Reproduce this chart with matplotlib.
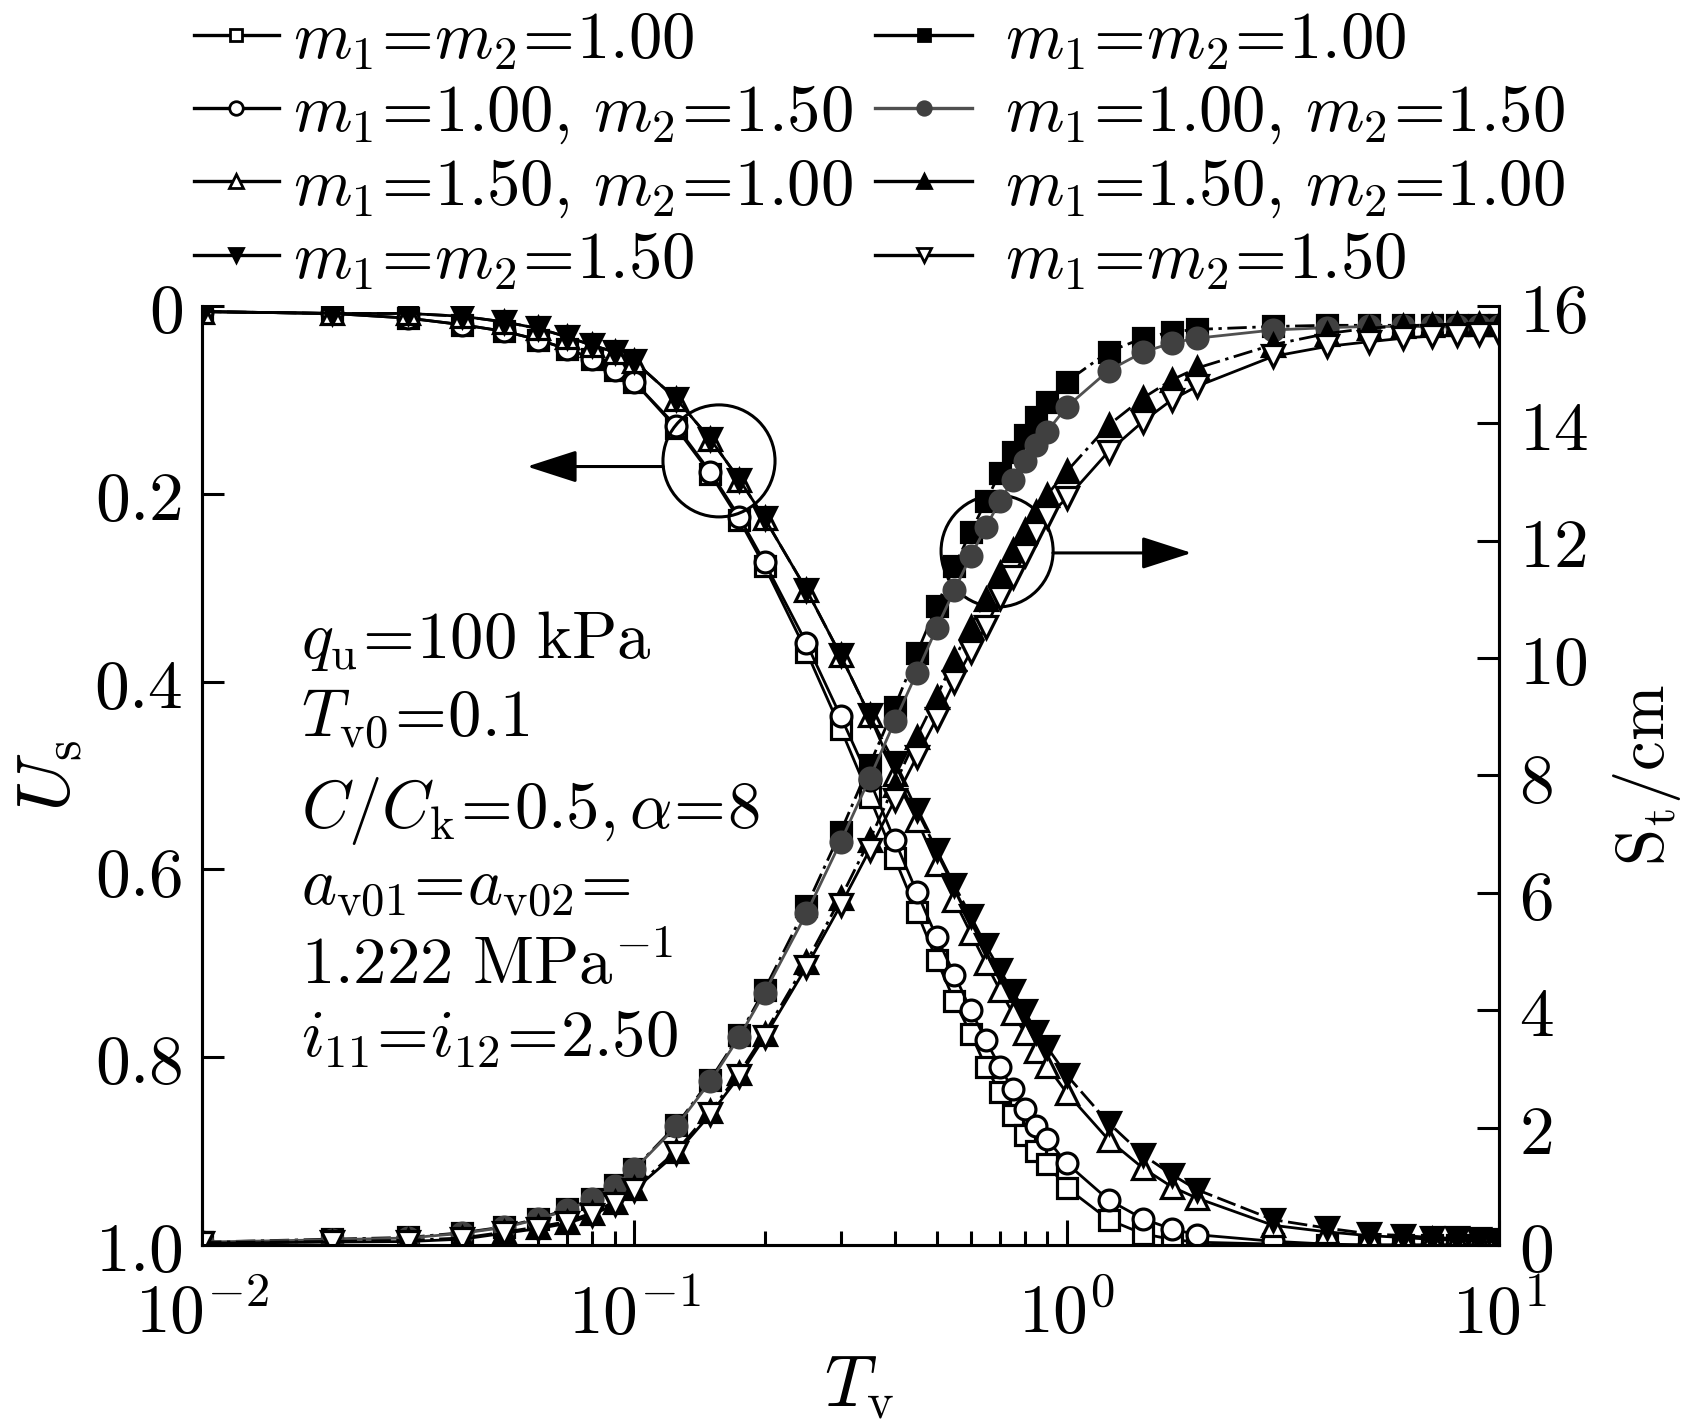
import numpy as np
import matplotlib
matplotlib.use("Agg")
import matplotlib.pyplot as plt
from matplotlib.lines import Line2D
from matplotlib.patches import Ellipse
from matplotlib.ticker import FixedLocator, FixedFormatter, FuncFormatter, NullFormatter, LogLocator

plt.rcParams['mathtext.fontset'] = 'cm'
plt.rcParams['font.family'] = ['DejaVu Serif']

# time factor (shared by all series)
tv = [0.01, 0.02, 0.03, 0.04, 0.05, 0.06, 0.07, 0.08, 0.09, 0.10,
      0.125, 0.15, 0.175, 0.20, 0.25, 0.30, 0.35, 0.40, 0.45, 0.50,
      0.55, 0.60, 0.65, 0.70, 0.75, 0.80, 0.85, 0.90, 1.00, 1.25,
      1.50, 1.75, 2.00, 3.0, 4.0, 5.0, 6.0, 7.0, 8.0, 9.0, 10.0]

# degree of consolidation U_s (left axis)
us_m100_100 = [0.006, 0.008, 0.013, 0.020, 0.027, 0.036, 0.046, 0.056, 0.068, 0.081,
               0.130, 0.179, 0.228, 0.277, 0.368, 0.450, 0.523, 0.588, 0.645, 0.696,
               0.740, 0.775, 0.810, 0.837, 0.862, 0.883, 0.900, 0.914, 0.939, 0.973,
               0.988, 0.994, 0.997, 0.999, 1.0, 1.0, 1.0, 1.0, 1.0, 1.0, 1.0]
us_m100_150 = [0.006, 0.008, 0.013, 0.020, 0.027, 0.036, 0.046, 0.056, 0.068, 0.081,
               0.128, 0.177, 0.225, 0.273, 0.359, 0.437, 0.505, 0.569, 0.624, 0.672,
               0.712, 0.750, 0.782, 0.810, 0.834, 0.855, 0.873, 0.887, 0.913, 0.952,
               0.972, 0.983, 0.989, 0.996, 0.999, 1.0, 1.0, 1.0, 1.0, 1.0, 1.0]
us_m150_100 = [0.006, 0.008, 0.008, 0.011, 0.017, 0.024, 0.033, 0.042, 0.049, 0.059,
               0.099, 0.142, 0.185, 0.226, 0.302, 0.372, 0.436, 0.498, 0.547, 0.594,
               0.633, 0.668, 0.700, 0.728, 0.753, 0.774, 0.793, 0.809, 0.838, 0.888,
               0.918, 0.938, 0.950, 0.979, 0.986, 0.990, 0.992, 0.994, 0.995, 0.996, 0.997]
us_m150_150 = [0.006, 0.008, 0.008, 0.011, 0.017, 0.024, 0.033, 0.042, 0.049, 0.059,
               0.099, 0.142, 0.185, 0.226, 0.302, 0.372, 0.436, 0.487, 0.537, 0.579,
               0.617, 0.650, 0.681, 0.707, 0.730, 0.751, 0.773, 0.789, 0.819, 0.870,
               0.904, 0.925, 0.941, 0.973, 0.982, 0.988, 0.990, 0.992, 0.993, 0.994, 0.995]

# settlement S_t in cm (right axis)
st_m100_100 = [0.05, 0.10, 0.13, 0.21, 0.31, 0.45, 0.61, 0.79, 1.02, 1.30,
               2.04, 2.82, 3.58, 4.35, 5.77, 7.04, 8.18, 9.17, 10.08, 10.88,
               11.57, 12.15, 12.67, 13.15, 13.52, 13.80, 14.11, 14.37, 14.71, 15.22,
               15.45, 15.56, 15.60, 15.65, 15.67, 15.67, 15.67, 15.67, 15.67, 15.67, 15.67]
st_m100_150 = [0.05, 0.09, 0.12, 0.20, 0.30, 0.44, 0.60, 0.78, 1.00, 1.29,
               2.02, 2.79, 3.55, 4.30, 5.65, 6.87, 7.95, 8.92, 9.75, 10.51,
               11.16, 11.74, 12.23, 12.67, 13.03, 13.35, 13.63, 13.86, 14.28, 14.90,
               15.21, 15.37, 15.45, 15.59, 15.63, 15.65, 15.65, 15.65, 15.65, 15.65, 15.65]
st_m150_100 = [0.04, 0.06, 0.08, 0.12, 0.22, 0.31, 0.40, 0.55, 0.74, 0.97,
               1.60, 2.28, 2.93, 3.60, 4.82, 5.91, 6.90, 7.84, 8.66, 9.34,
               9.99, 10.53, 11.00, 11.45, 11.85, 12.18, 12.49, 12.78, 13.18, 13.97,
               14.43, 14.74, 14.94, 15.34, 15.53, 15.62, 15.66, 15.68, 15.69, 15.70, 15.70]
st_m150_150 = [0.03, 0.05, 0.06, 0.10, 0.20, 0.28, 0.37, 0.51, 0.70, 0.94,
               1.56, 2.23, 2.88, 3.54, 4.74, 5.79, 6.73, 7.58, 8.32, 8.97,
               9.60, 10.11, 10.53, 11.02, 11.39, 11.76, 12.13, 12.41, 12.72, 13.52,
               14.03, 14.40, 14.63, 15.14, 15.31, 15.39, 15.45, 15.49, 15.50, 15.52, 15.53]

labels = [r'$m_1\!=\!m_2\!=\!1.00$',
          r'$m_1\!=\!1.00,\,m_2\!=\!1.50$',
          r'$m_1\!=\!1.50,\,m_2\!=\!1.00$',
          r'$m_1\!=\!m_2\!=\!1.50$']

u_ticks = [0, 0.2, 0.4, 0.6, 0.8, 1.0]
u_ticklabels = ['$0$', '$0.2$', '$0.4$', '$0.6$', '$0.8$', '$1.0$']
s_ticks = [0, 2, 4, 6, 8, 10, 12, 14, 16]
s_ticklabels = ['$%d$' % v for v in s_ticks]

notes = [r'$q_\mathrm{u}\!=\!100\ \mathrm{kPa}$',
         r'$T_\mathrm{v0}\!=\!0.1$',
         r'$C/C_\mathrm{k}\!=\!0.5,\alpha\!=\!8$',
         r'$a_\mathrm{v01}\!=\!a_\mathrm{v02}\!=$',
         r'$1.222\ \mathrm{MPa}^{-1}$',
         r'$i_{11}\!=\!i_{12}\!=\!2.50$']
note_y = [0.625, 0.541, 0.444, 0.362, 0.278, 0.2005]

FS = 48
TFS = 50
dashdot = (0, (7, 2, 1.2, 2))
dashed = (0, (7, 2))

u_styles = [dict(marker='s', ms=14, mfc='white', color='k', ls='-'),
            dict(marker='o', ms=15, mfc='white', color='k', ls='-'),
            dict(marker='^', ms=16.5, mfc='white', color='k', ls='-'),
            dict(marker='v', ms=16.5, mfc='k', color='k', ls=dashed)]
s_styles = [dict(marker='s', ms=14, mfc='k', color='k', ls=dashdot),
            dict(marker='o', ms=15, mfc='#404040', mec='#404040', color='#505050', ls='-'),
            dict(marker='^', ms=16.5, mfc='k', color='k', ls=dashdot),
            dict(marker='v', ms=16.5, mfc='white', color='k', ls='-')]

fig = plt.figure(figsize=(17.06, 14.25), dpi=100)
ax = fig.add_axes([0.1184, 0.1263, 0.7603, 0.659])
ax2 = ax.twinx()

for ys, st in zip([us_m100_100, us_m100_150, us_m150_100, us_m150_150], u_styles):
    ax.plot(tv, ys, lw=2.0, mew=2.3, **st)
for ys, st in zip([st_m100_100, st_m100_150, st_m150_100, st_m150_150], s_styles):
    ax2.plot(tv, ys, lw=2.0, mew=2.3, **st)

ax.set_xscale('log')
ax.set_xlim(1e-2, 1e1)
ax.set_ylim(1.0, 0.0)
ax2.set_ylim(0, 16)

ax.xaxis.set_major_locator(LogLocator(base=10, numticks=10))
ax.xaxis.set_minor_locator(LogLocator(base=10, subs=np.arange(2, 10), numticks=20))
ax.xaxis.set_major_formatter(FuncFormatter(lambda v, p: r'$10^{%d}$' % round(np.log10(v))))
ax.xaxis.set_minor_formatter(NullFormatter())
ax.yaxis.set_major_locator(FixedLocator(u_ticks))
ax.yaxis.set_major_formatter(FixedFormatter(u_ticklabels))
ax2.yaxis.set_major_locator(FixedLocator(s_ticks))
ax2.yaxis.set_major_formatter(FixedFormatter(s_ticklabels))

for a in (ax, ax2):
    a.spines['top'].set_visible(False)
    for sp in a.spines.values():
        sp.set_linewidth(2.2)
ax.tick_params(axis='x', which='major', direction='in', length=18, width=2.2, labelsize=TFS, pad=26, top=False)
ax.tick_params(axis='x', which='minor', direction='in', length=10, width=2.2, top=False)
ax.tick_params(axis='y', direction='in', length=16, width=2.2, labelsize=TFS, pad=14, right=False)
ax2.tick_params(axis='y', direction='in', length=16, width=2.2, labelsize=TFS, pad=14)

ax.set_xlabel(r'$T_\mathrm{v}$', fontsize=FS + 4)
ax.xaxis.set_label_coords(0.5066, -0.112)
ax.set_ylabel(r'$U_\mathrm{s}$', fontsize=FS + 6)
ax.yaxis.set_label_coords(-0.09, 0.5)
ax2.set_ylabel(r'$\mathrm{S_t/cm}$', fontsize=FS)
ax2.yaxis.set_label_coords(1.086, 0.5)

for s, y in zip(notes, note_y):
    ax.text(0.0763, y, s, transform=ax.transAxes, fontsize=FS, va='baseline', ha='left')

# circles with arrows pointing to the matching axis
ax2.add_patch(Ellipse((0.3986, 0.835), 0.0864, 0.1193, transform=ax2.transAxes,
                      fill=False, lw=2.2, color='k'))
ax2.add_patch(Ellipse((0.613, 0.739), 0.0864, 0.1193, transform=ax2.transAxes,
                      fill=False, lw=2.2, color='k'))
arrow = dict(arrowstyle='-|>,head_length=1.55,head_width=0.5', mutation_scale=20,
             lw=2.2, color='k', shrinkA=0, shrinkB=0)
ax2.annotate('', xy=(0.2506, 0.829), xytext=(0.3555, 0.829),
             xycoords='axes fraction', textcoords='axes fraction', arrowprops=arrow)
ax2.annotate('', xy=(0.763, 0.737), xytext=(0.656, 0.737),
             xycoords='axes fraction', textcoords='axes fraction', arrowprops=arrow)

# legends with solid-line handles
def handles(styles):
    out = []
    for st in styles:
        st = dict(st)
        st['ls'] = '-'
        out.append(Line2D([], [], lw=2.4, mew=2.0, **st))
    return out

leg_kw = dict(frameon=False, fontsize=FS, borderpad=0, borderaxespad=0,
              labelspacing=0.11, markerscale=0.65, loc='upper left')
leg1 = fig.legend(handles(u_styles), labels, bbox_to_anchor=(0.1137, 0.995),
                  handlelength=1.27, handletextpad=0.22, **leg_kw)
leg2 = fig.legend(handles(s_styles), labels, bbox_to_anchor=(0.513, 0.995),
                  handlelength=1.45, handletextpad=0.5, **leg_kw)

fig.savefig('out.png', dpi=100)
